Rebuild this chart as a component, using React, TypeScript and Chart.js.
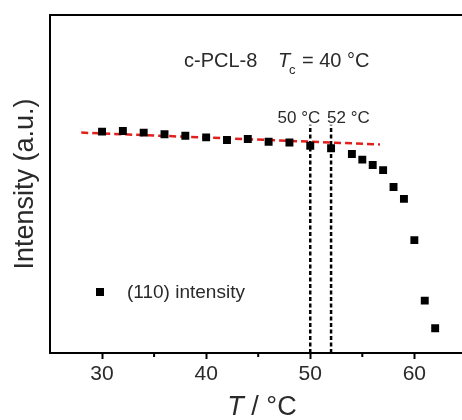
import React, { useEffect, useRef } from "react";
import { Chart, registerables } from "chart.js";

Chart.register(...registerables);

const temperatures = [30, 32, 34, 36, 38, 40, 42, 44, 46, 48, 50, 52, 54, 55, 56, 57, 58, 59, 60, 61, 62];
const intensity = [65.5, 65.7, 65.2, 64.7, 64.3, 63.8, 63.0, 63.3, 62.5, 62.3, 61.3, 60.6, 58.9, 57.2, 55.6, 54.1, 49.1, 45.6, 33.4, 15.5, 7.3];
const fitX = [28, 56.7];
const fitY = [65.2, 61.7];
const markerTemps = [50, 52];
const markerLabels = ["50 °C", "52 °C"];
const markerTop = 67.5;
const majorTicks = [30, 40, 50, 60];
const minorTicks = [35, 45, 55];
const seriesLabel = "(110) intensity";
const sampleName = "c-PCL-8";
const tcValue = "= 40 °C";

const FONT = "'Liberation Sans', Arial, sans-serif";

const decorPlugin = {
  id: "decor",
  afterDraw(chart: any) {
    const { ctx, chartArea } = chart;
    const xs = chart.scales.x;
    const ys = chart.scales.y;
    ctx.save();
    // top frame line
    ctx.strokeStyle = "#000";
    ctx.lineWidth = 2;
    ctx.beginPath();
    ctx.moveTo(chartArea.left - 1, chartArea.top);
    ctx.lineTo(chartArea.right + 1, chartArea.top);
    ctx.stroke();
    // minor ticks
    ctx.lineWidth = 2;
    minorTicks.forEach((v) => {
      const px = xs.getPixelForValue(v);
      ctx.beginPath();
      ctx.moveTo(px, chartArea.bottom);
      ctx.lineTo(px, chartArea.bottom + 4);
      ctx.stroke();
    });
    ctx.fillStyle = "#2a2a2a";
    // title
    ctx.textBaseline = "alphabetic";
    ctx.textAlign = "left";
    ctx.font = `20px ${FONT}`;
    ctx.fillText(sampleName, 184, 67);
    ctx.font = `italic 20px ${FONT}`;
    ctx.fillText("T", 278, 67);
    ctx.font = `13px ${FONT}`;
    ctx.fillText("c", 289, 74);
    ctx.font = `20px ${FONT}`;
    ctx.fillText(tcValue, 302, 67);
    // marker labels
    ctx.font = `17px ${FONT}`;
    const lblTop = ys.getPixelForValue(markerTop) - 2;
    ctx.textAlign = "right";
    ctx.fillText(markerLabels[0], xs.getPixelForValue(markerTemps[0]) + 10, lblTop);
    ctx.textAlign = "left";
    ctx.fillText(markerLabels[1], xs.getPixelForValue(markerTemps[1]) - 4, lblTop);
    // legend
    ctx.fillStyle = "#000";
    ctx.fillRect(96, 288, 8, 8);
    ctx.fillStyle = "#2a2a2a";
    ctx.font = `19px ${FONT}`;
    ctx.textAlign = "left";
    ctx.fillText(seriesLabel, 127, 298);
    // x title
    ctx.font = `italic 27px ${FONT}`;
    const tW = ctx.measureText("T").width;
    ctx.font = `27px ${FONT}`;
    const restW = ctx.measureText(" / °C").width;
    const startX = 262 - (tW + restW) / 2;
    ctx.font = `italic 27px ${FONT}`;
    ctx.fillText("T", startX, 415);
    ctx.font = `27px ${FONT}`;
    ctx.fillText(" / °C", startX + tW, 415);
    // y title
    ctx.translate(33, 184);
    ctx.rotate(-Math.PI / 2);
    ctx.textAlign = "center";
    ctx.font = `27px ${FONT}`;
    ctx.fillText("Intensity (a.u.)", 0, 0);
    ctx.restore();
  },
};

export default function App() {
  const ref = useRef<HTMLCanvasElement>(null);
  useEffect(() => {
    document.body.style.margin = "0";
    const canvas = ref.current!;
    const chart = new Chart(canvas, {
      type: "scatter",
      data: {
        datasets: [
          {
            label: seriesLabel,
            data: temperatures.map((t, i) => ({ x: t, y: intensity[i] })),
            pointStyle: "rect",
            pointRadius: 5.6,
            pointBorderWidth: 0,
            backgroundColor: "#000",
            borderColor: "#000",
            showLine: false,
          },
          {
            label: "fit",
            data: fitX.map((x, i) => ({ x, y: fitY[i] })),
            showLine: true,
            pointRadius: 0,
            borderColor: "#e0201c",
            borderWidth: 2.5,
            borderDash: [7, 4],
          },
          ...markerTemps.map((t) => ({
            label: String(t),
            data: [
              { x: t, y: 0 },
              { x: t, y: markerTop },
            ],
            showLine: true,
            pointRadius: 0,
            borderColor: "#000",
            borderWidth: 2.5,
            borderDash: [4, 2.5],
          })),
        ],
      },
      options: {
        responsive: false,
        animation: false,
        devicePixelRatio: 1,
        layout: { padding: { top: 15, right: 2, left: 0, bottom: 0 } },
        plugins: { legend: { display: false }, tooltip: { enabled: false }, title: { display: false } },
        scales: {
          x: {
            type: "linear",
            min: 25,
            max: 65,
            afterFit: (s: any) => {
              s.height = 67;
            },
            border: { display: true, color: "#000", width: 2 },
            grid: {
              display: true,
              drawOnChartArea: false,
              drawTicks: true,
              tickLength: 6,
              tickWidth: 2,
              tickColor: (c: any) => (c.tick && c.tick.value % 10 === 0 ? "#000" : "rgba(0,0,0,0)"),
            },
            ticks: {
              stepSize: 5,
              autoSkip: false,
              maxRotation: 0,
              padding: 3,
              color: "#2a2a2a",
              font: { family: FONT, size: 21 },
              callback: (v: any) => (majorTicks.includes(Number(v)) ? String(v) : ""),
            },
          },
          y: {
            type: "linear",
            min: 0,
            max: 100,
            afterFit: (s: any) => {
              s.width = 50;
            },
            border: { display: true, color: "#000", width: 2 },
            grid: { display: false },
            ticks: { display: false },
          },
        },
      },
      plugins: [decorPlugin],
    } as any);
    return () => chart.destroy();
  }, []);
  return (
    <div style={{ width: 462, height: 420, overflow: "hidden", position: "relative", background: "#fff" }}>
      <canvas ref={ref} width={472} height={420} style={{ display: "block" }} />
    </div>
  );
}
